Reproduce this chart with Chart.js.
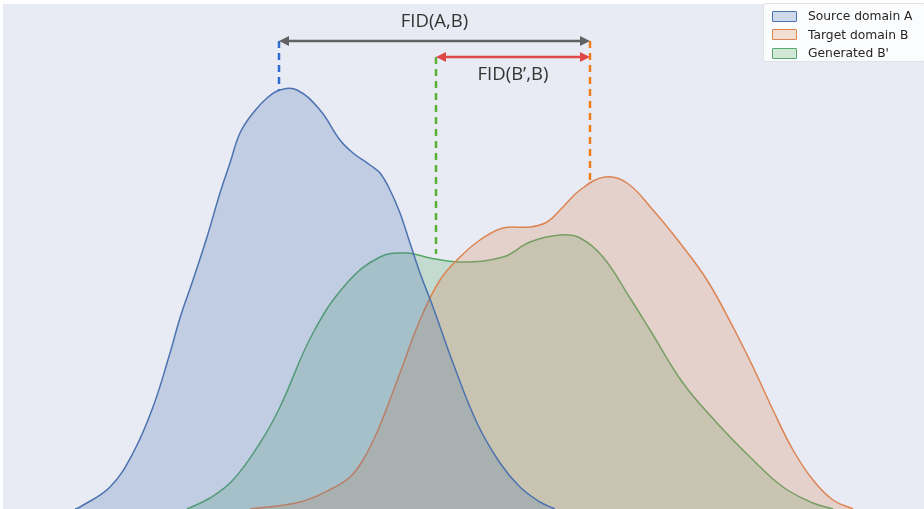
<!DOCTYPE html>
<html>
<head>
<meta charset="utf-8">
<script src="https://cdn.jsdelivr.net/npm/chart.js@4.4.1/dist/chart.umd.min.js"></script>
<style>
  body { margin: 0; background: #fff; }
  #wrap { position: relative; width: 924px; height: 509px; }
  #legend {
    position: absolute; left: 763px; top: 3px; width: 163px; height: 59px;
    background: rgba(255,255,255,0.82); border: 1px solid #e2e2e2; border-radius: 3px;
    box-sizing: border-box; font-family: "DejaVu Sans", sans-serif; font-size: 12.3px; color: #262626;
    padding-top: 3px;
  }
  #legend .row { display: flex; align-items: center; height: 18.5px; }
  #legend .sw { width: 23px; height: 9px; margin-left: 8px; margin-right: 11px; border: 1.4px solid; border-radius: 1px; }
</style>
</head>
<body>
<div id="wrap">
  <canvas id="chart" width="924" height="509"></canvas>
  <div id="legend"></div>
</div>
<script>
const labels = ["Source domain A", "Target domain B", "Generated B'"];
const lineColors = ["#4c72b0", "#dd8452", "#55a868"];

// density estimates
const sourceX = [-3.25, -3.20, -2.90, -2.67, -2.47, -2.30, -2.20, -2.07, -1.93, -1.80, -1.70, -1.60, -1.47, -1.33, -1.20, -1.03, -0.80, -0.60, -0.47, -0.30, -0.20, -0.10, 0.00, 0.10, 0.20, 0.33, 0.53, 0.77, 1.00, 1.20, 1.40, 1.55];
const sourceY = [0, 0.002, 0.022, 0.056, 0.102, 0.156, 0.191, 0.229, 0.272, 0.316, 0.346, 0.376, 0.396, 0.411, 0.419, 0.419, 0.399, 0.369, 0.356, 0.344, 0.336, 0.319, 0.296, 0.266, 0.236, 0.202, 0.146, 0.086, 0.046, 0.022, 0.007, 0];

const targetX = [-1.50, -1.00, -0.67, -0.50, -0.37, -0.22, 0.00, 0.20, 0.40, 0.60, 0.80, 1.03, 1.30, 1.47, 1.63, 1.80, 2.05, 2.27, 2.53, 2.80, 3.07, 3.33, 3.53, 3.73, 3.93, 4.13, 4.33, 4.53];
const targetY = [0, 0.007, 0.021, 0.032, 0.049, 0.079, 0.136, 0.189, 0.229, 0.252, 0.269, 0.281, 0.282, 0.287, 0.302, 0.319, 0.332, 0.326, 0.299, 0.266, 0.229, 0.182, 0.142, 0.099, 0.059, 0.029, 0.009, 0];

const generatedX = [-2.13, -1.90, -1.67, -1.40, -1.20, -0.87, -0.53, -0.20, 0.07, 0.30, 0.60, 1.03, 1.30, 1.60, 1.80, 2.03, 2.30, 2.50, 2.83, 3.17, 3.50, 3.83, 4.13, 4.33];
const generatedY = [0, 0.011, 0.029, 0.066, 0.102, 0.176, 0.226, 0.252, 0.256, 0.251, 0.247, 0.252, 0.267, 0.274, 0.271, 0.252, 0.211, 0.179, 0.126, 0.086, 0.052, 0.022, 0.006, 0];

// FID markers: means of A, B, B'
const meanX = [-1.21, 1.90, 0.36];
const markerTop = [0.468, 0.468, 0.452];
const markerBottom = [0.419, 0.326, 0.255];
const markerColors = ["#2f6bd0", "#f07c1c", "#59b236"];

const pairs = (xs, ys) => xs.map((x, i) => ({ x: x, y: ys[i] }));

function fillColor(hex, a) {
  const n = parseInt(hex.slice(1), 16);
  return `rgba(${n >> 16},${(n >> 8) & 255},${n & 255},${a})`;
}

const bgPlugin = {
  id: "bg",
  beforeDraw(chart) {
    const { ctx, chartArea: a } = chart;
    ctx.save();
    ctx.fillStyle = "#e8ebf3";
    ctx.fillRect(a.left, a.top, a.right - a.left, a.bottom - a.top);
    ctx.restore();
  }
};

function arrow(ctx, x1, x2, y, color) {
  const h = 10, w = 5;
  ctx.strokeStyle = color;
  ctx.fillStyle = color;
  ctx.lineWidth = 2.5;
  ctx.setLineDash([]);
  ctx.beginPath();
  ctx.moveTo(x1 + 4, y);
  ctx.lineTo(x2 - 4, y);
  ctx.stroke();
  ctx.beginPath();
  ctx.moveTo(x1, y); ctx.lineTo(x1 + h, y - w); ctx.lineTo(x1 + h, y + w); ctx.closePath();
  ctx.fill();
  ctx.beginPath();
  ctx.moveTo(x2, y); ctx.lineTo(x2 - h, y - w); ctx.lineTo(x2 - h, y + w); ctx.closePath();
  ctx.fill();
}

const fidPlugin = {
  id: "fid",
  afterDatasetsDraw(chart) {
    const { ctx, scales: { x, y } } = chart;
    ctx.save();
    meanX.forEach((m, i) => {
      ctx.strokeStyle = markerColors[i];
      ctx.lineWidth = 2.5;
      ctx.setLineDash([7, 5]);
      ctx.beginPath();
      ctx.moveTo(x.getPixelForValue(m), y.getPixelForValue(markerTop[i]));
      ctx.lineTo(x.getPixelForValue(m), y.getPixelForValue(markerBottom[i]));
      ctx.stroke();
    });
    arrow(ctx, x.getPixelForValue(meanX[0]), x.getPixelForValue(meanX[1]), y.getPixelForValue(0.468), "#626262");
    arrow(ctx, x.getPixelForValue(meanX[2]), x.getPixelForValue(meanX[1]), y.getPixelForValue(0.452), "#e04848");

    ctx.fillStyle = "#333333";
    ctx.font = '18.5px "Open Sans"';
    ctx.textAlign = "center";
    ctx.textBaseline = "middle";
    ctx.fillText("FID(A,B)", x.getPixelForValue((meanX[0] + meanX[1]) / 2), y.getPixelForValue(0.487));
    ctx.fillText("FID(B\u2019,B)", x.getPixelForValue((meanX[2] + meanX[1]) / 2), y.getPixelForValue(0.434));
    ctx.restore();
  }
};

const series = [pairs(sourceX, sourceY), pairs(targetX, targetY), pairs(generatedX, generatedY)];

const chart = new Chart(document.getElementById("chart"), {
  type: "line",
  data: {
    datasets: series.map((d, i) => ({
      label: labels[i],
      data: d,
      borderColor: lineColors[i],
      backgroundColor: fillColor(lineColors[i], 0.25),
      borderWidth: 1.5,
      fill: "origin",
      pointRadius: 0,
      tension: 0.4
    }))
  },
  options: {
    responsive: false,
    animation: false,
    devicePixelRatio: 1,
    layout: { padding: { top: 4, left: 3, right: 0, bottom: 0 } },
    scales: {
      x: { type: "linear", min: -3.97, max: 5.24, display: false },
      y: { min: 0, max: 0.505, display: false }
    },
    plugins: { legend: { display: false }, tooltip: { enabled: false } }
  },
  plugins: [bgPlugin, fidPlugin]
});

// legend as html, from the chart's own legend items
const legendEl = document.getElementById("legend");
chart.options.plugins.legend.labels.generateLabels(chart).forEach((item) => {
  const row = document.createElement("div");
  row.className = "row";
  row.innerHTML = `<span class="sw" style="border-color:${item.strokeStyle};background:${item.fillStyle}"></span><span>${item.text}</span>`;
  legendEl.appendChild(row);
});
</script>
</body>
</html>
